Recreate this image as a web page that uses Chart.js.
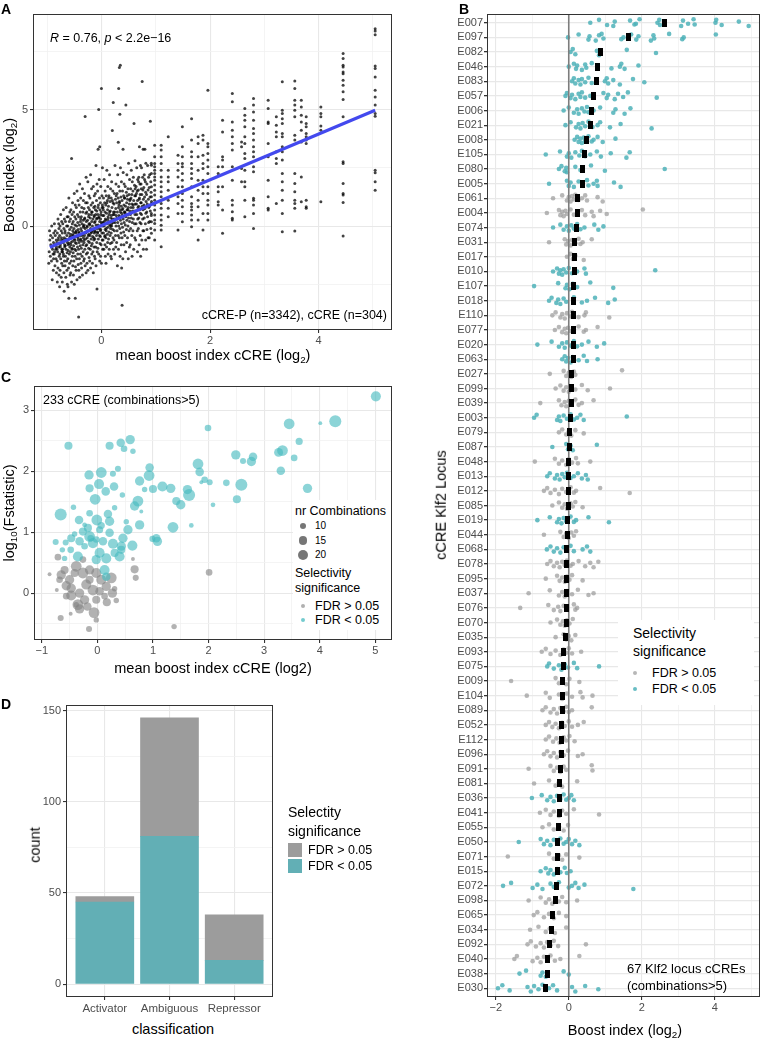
<!DOCTYPE html>
<html><head><meta charset="utf-8">
<script src="https://cdn.jsdelivr.net/npm/chart.js@4.4.1/dist/chart.umd.min.js"></script>
<style>
body{margin:0;background:#fff;}
#root{position:relative;width:765px;height:1042px;overflow:hidden;font-family:"Liberation Sans",Arial,sans-serif;background:#fff;}
canvas{position:absolute;}
.t{position:absolute;white-space:nowrap;color:#000;line-height:1;}
.t sub{font-size:0.68em;vertical-align:-0.3em;line-height:0;}
.dot{position:absolute;border-radius:50%;}
.box{position:absolute;}
</style></head>
<body><div id="root">
<canvas id="cA" width="400" height="345" style="left:0;top:0"></canvas>
<canvas id="cC" width="400" height="315" style="left:0;top:345px"></canvas>
<canvas id="cD" width="400" height="340" style="left:0;top:680px"></canvas>
<canvas id="cB" width="325" height="1042" style="left:440px;top:0"></canvas>
</div>
<script>
// ---------------- DATA ----------------
// Panel A: columns of points [mean boost index cCRE, [boost index values]]
const aCols = [
 [-0.95,[-0.6,-0.8,-1.1,-1.3,-1.6,-0.4,-0.2]],
 [-0.9,[-0.5,-0.7,-0.9,-1.2,-1.5,-1.9,-2.3,-0.3,0.0,-1.0,-1.4]],
 [-0.85,[-0.4,-0.6,-0.8,-1.0,-1.2,-1.4,-1.7,-2.0,0.1,-0.2,-0.9,-1.1]],
 [-0.8,[0.3,-0.1,-0.3,-0.5,-0.7,-0.9,-1.1,-1.3,-1.5,-1.8,-2.1,-2.4,-0.6,-1.0,0.1]],
 [-0.75,[0.5,0.2,0.0,-0.2,-0.4,-0.6,-0.8,-1.0,-1.2,-1.4,-1.6,-1.9,-2.2,-2.6,-0.5,-0.9,-1.1]],
 [-0.7,[0.7,0.3,0.1,-0.1,-0.3,-0.5,-0.7,-0.9,-1.1,-1.3,-1.5,-1.7,-2.0,-2.4,-2.8,-0.6,-0.8,-1.0,-1.2]],
 [-0.65,[0.8,0.4,0.2,0.0,-0.2,-0.4,-0.55,-0.7,-0.85,-1.0,-1.15,-1.3,-1.5,-1.7,-1.9,-2.2,-2.5,-0.3,-0.6]],
 [-0.6,[1.2,0.6,0.4,0.2,0.0,-0.15,-0.3,-0.45,-0.6,-0.75,-0.9,-1.05,-1.2,-1.4,-1.6,-1.8,-2.1,-2.6,-3.1,-0.5,-0.8]],
 [-0.55,[2.9,1.0,0.7,0.5,0.3,0.1,-0.05,-0.2,-0.35,-0.5,-0.65,-0.8,-0.95,-1.1,-1.3,-1.5,-1.7,-2.0,-2.4,-0.4,-0.7,-1.0]],
 [-0.5,[1.4,0.9,0.6,0.4,0.2,0.05,-0.1,-0.25,-0.4,-0.55,-0.7,-0.85,-1.0,-1.15,-1.3,-1.5,-1.75,-2.1,-2.5,-3.1,-0.3,-0.6]],
 [-0.45,[1.5,1.1,0.8,0.5,0.3,0.15,0.0,-0.15,-0.3,-0.45,-0.6,-0.75,-0.9,-1.05,-1.2,-1.4,-1.65,-1.9,-2.3,-0.5,-0.2]],
 [-0.42,[-3.9]],
 [-0.4,[1.8,1.2,0.9,0.6,0.4,0.2,0.05,-0.1,-0.25,-0.4,-0.55,-0.7,-0.85,-1.0,-1.2,-1.4,-1.6,-1.9,-2.2,0.3,-0.3,-0.6]],
 [-0.35,[1.6,1.1,0.8,0.6,0.4,0.25,0.1,-0.05,-0.2,-0.35,-0.5,-0.65,-0.8,-0.95,-1.1,-1.3,-1.5,-1.8,-2.1,0.0,-0.4]],
 [-0.3,[4.7,2.1,1.4,1.0,0.75,0.55,0.35,0.2,0.05,-0.1,-0.25,-0.4,-0.55,-0.7,-0.85,-1.0,-1.2,-1.4,-1.7,-2.0,0.3,-0.3,-0.6]],
 [-0.25,[1.9,1.3,1.0,0.8,0.6,0.4,0.25,0.1,-0.05,-0.2,-0.35,-0.5,-0.65,-0.8,-0.95,-1.15,-1.35,-1.6,-1.9,0.5,0.0,-0.4]],
 [-0.2,[2.2,1.6,1.2,0.9,0.7,0.5,0.35,0.2,0.05,-0.1,-0.25,-0.4,-0.55,-0.7,-0.85,-1.0,-1.2,-1.5,-1.8,0.6,0.1,-0.3]],
 [-0.15,[1.7,1.3,1.0,0.8,0.6,0.45,0.3,0.15,0.0,-0.15,-0.3,-0.45,-0.6,-0.75,-0.9,-1.1,-1.3,-1.6,-2.0,0.4,-0.2,-0.5]],
 [-0.1,[2.6,1.8,1.4,1.1,0.85,0.65,0.5,0.35,0.2,0.05,-0.1,-0.25,-0.4,-0.55,-0.7,-0.9,-1.1,-1.4,-1.7,-2.7,0.7,0.3,-0.2]],
 [-0.05,[5.0,3.4,3.3,2.0,1.5,1.2,0.9,0.7,0.5,0.35,0.2,0.05,-0.1,-0.25,-0.4,-0.55,-0.75,-0.95,-1.2,-1.5,0.8,0.4,-0.3]],
 [0.0,[5.9,2.5,1.7,1.3,1.0,0.8,0.6,0.45,0.3,0.15,0.0,-0.15,-0.3,-0.45,-0.6,-0.8,-1.0,-1.3,-1.6,0.9,0.5,0.1,-0.2]],
 [0.05,[2.0,1.5,1.2,1.0,0.8,0.6,0.45,0.3,0.15,0.0,-0.15,-0.3,-0.45,-0.6,-0.8,-1.0,-1.3,0.7,0.2,-0.4]],
 [0.1,[2.4,1.7,1.3,1.1,0.9,0.7,0.55,0.4,0.25,0.1,-0.05,-0.2,-0.35,-0.5,-0.7,-0.9,-1.2,-1.6,1.0,0.3,-0.1]],
 [0.15,[2.2,1.6,1.3,1.05,0.85,0.65,0.5,0.35,0.2,0.05,-0.1,-0.25,-0.4,-0.55,-0.75,-1.0,-1.3,1.2,0.6,0.0]],
 [0.2,[4.1,5.3,1.9,1.5,1.2,1.0,0.8,0.6,0.45,0.3,0.15,0.0,-0.15,-0.3,-0.5,-0.7,-1.0,-1.4,1.1,0.5,0.1]],
 [0.25,[2.6,1.8,1.4,1.15,0.95,0.75,0.6,0.45,0.3,0.15,0.0,-0.2,-0.4,-0.6,-0.9,-1.2,1.3,0.5]],
 [0.3,[2.2,1.7,1.4,1.2,1.0,0.8,0.6,0.45,0.3,0.15,0.0,-0.2,-0.4,-0.7,-1.0,-1.7,0.9,0.35]],
 [0.33,[6.8,6.9,5.9,4.8,3.6]],
 [0.35,[2.5,1.9,1.5,1.25,1.05,0.85,0.7,0.55,0.4,0.25,0.1,-0.1,-0.3,-0.5,-0.8,-1.3,-1.8,1.0,0.6]],
 [0.38,[-3.4,3.3]],
 [0.4,[2.3,1.8,1.5,1.3,1.1,0.9,0.75,0.6,0.45,0.3,0.15,-0.05,-0.25,-0.5,-0.8,-1.4,1.2,0.7]],
 [0.45,[5.2,2.2,1.7,1.45,1.2,1.0,0.85,0.7,0.55,0.4,0.25,0.05,-0.15,-0.4,-0.7,-1.1,1.3,0.6]],
 [0.5,[2.7,2.0,1.6,1.35,1.15,0.95,0.8,0.65,0.5,0.35,0.2,0.0,-0.2,-0.5,-0.9,-1.4,1.1,0.7]],
 [0.55,[2.4,1.9,1.6,1.35,1.15,0.95,0.8,0.65,0.5,0.35,0.15,-0.1,-0.4,-0.8,-1.3,1.2]],
 [0.6,[4.4,2.8,2.1,1.75,1.5,1.3,1.1,0.95,0.8,0.65,0.5,0.3,0.1,-0.2,-0.5,-1.0,1.6,0.9]],
 [0.65,[2.5,2.0,1.7,1.5,1.3,1.1,0.95,0.8,0.65,0.5,0.3,0.1,-0.2,-0.6,-1.1,1.4]],
 [0.7,[3.4,2.6,2.1,1.8,1.55,1.35,1.15,1.0,0.85,0.7,0.55,0.35,0.15,-0.1,-0.4,-0.8,-1.3,1.9,1.2]],
 [0.75,[6.2,3.3,2.5,2.1,1.8,1.55,1.35,1.15,1.0,0.85,0.7,0.5,0.3,0.1,-0.2,-0.6,-1.0,1.6]],
 [0.8,[3.3,2.7,2.2,1.9,1.65,1.45,1.25,1.05,0.9,0.75,0.55,0.35,0.1,-0.2,-0.6,2.0]],
 [0.85,[2.6,2.1,1.8,1.55,1.35,1.15,0.95,0.8,0.6,0.4,0.15,-0.15,-0.5,-1.0]],
 [0.9,[4.5,2.7,2.2,1.9,1.65,1.45,1.25,1.05,0.85,0.65,0.45,0.2,-0.1,-0.5]],
 [0.92,[2.61,2.26,1.69,1.26,0.97,0.54,0.19,-0.31]],
 [0.98,[3.47,2.97,2.69,2.54,2.4,2.26,2.11,1.97,1.76,1.54,1.33,1.11,0.9,0.69,0.47,0.26,0.11,-0.17,-0.6]],
 [1.1,[3.47,3.26,2.97,2.69,2.4,2.11,1.9,1.69,1.47,1.26,0.97,0.76,0.47,0.26,0.04,-0.17,-0.89]],
 [1.23,[3.83,2.4,2.11,1.9,1.54,1.11,0.76,0.4]],
 [1.41,[3.04,2.69,2.4,2.11,1.69,1.26,0.97,0.54,-0.17]],
 [1.49,[4.26,3.4,2.97,2.69,2.54,2.26,1.97,1.69,1.4,1.11,0.83,0.54,0.19]],
 [1.66,[4.61,3.69,3.19,2.97,2.69,2.47,2.26,2.04,1.69,1.26,0.97,0.83,0.69,0.47,0.26,-0.03]],
 [1.78,[3.83,3.54,2.97,2.4,1.97,1.54,1.11,0.83,0.26,-0.6]],
 [1.87,[3.9,3.69,3.04,2.69,2.47,1.97,1.69,1.4,0.54,-0.17]],
 [1.96,[5.83,3.54,3.4,3.11,2.83,2.54,2.26,1.69,1.4,1.11,0.9,0.54,0.26]],
 [2.15,[2.54,2.26,1.69,1.47,1.04,0.9]],
 [2.23,[4.54,4.04,2.97,2.83,2.54,1.69,0.69,-0.31]],
 [2.41,[5.69,5.33,4.47,4.11,3.83,3.54,3.26,2.54,1.97,1.11,0.9,0.61,0.33,0.26]],
 [2.58,[3.61,3.4,2.47,1.9]],
 [2.64,[5.04,4.76,4.54,4.26,3.83,3.54,3.11,2.9,2.4,1.9,1.69,1.11,0.4]],
 [2.8,[5.47,5.19,4.9,4.54,4.19,3.97,3.69,3.4,3.19,2.97,2.54,2.33,1.19,1.11,0.9,0.54,-0.1]],
 [3.07,[5.4,5.04,4.47,4.4,3.54,2.97,1.97,1.26,0.76,0.69]],
 [3.22,[4.69,4.33,4.04,3.83,3.19,2.9,2.69,0.97]],
 [3.33,[6.19,4.97,4.83,4.61,4.4,3.97,3.83,3.4,3.19,2.83,2.26,1.9,1.54,1.11,0.54,-0.24]],
 [3.56,[6.23,5.9,5.4,5.19,4.97,4.69,3.9,3.69,2.26,1.83,1.47,1.11,0.97,0.76,-0.21]],
 [3.68,[5.4,5.11,4.76,4.47,4.11,3.61,2.11,1.04]],
 [3.77,[4.69,4.4,4.26,3.97,3.83,3.69,3.54,1.11,0.83,0.76]],
 [4.04,[5.11,4.83,4.69,4.29,4.11,1.04]],
 [4.45,[7.4,7.19,6.9,6.83,6.61,6.54,6.26,6.04,5.76,5.43,4.69,2.76,2.69,1.83,1.4,1.33,1.01,-0.43]],
 [5.04,[8.47,8.37,8.21,6.87,6.76,6.4,5.83,5.54,5.19,4.83,4.71,2.4,2.29,1.9,1.54]]
];
const aLineX = [-0.95, 5.04];
const aLineY = [-0.91, 4.97];
const aXTicks = [-1,0,1,2,3,4,5], aXMajor = [0,2,4];
const aYTicks = [-2.5,0,2.5,5,7.5], aYMajor = [0,5];

// Panel B
const bLabels = ["E007","E097","E082","E046","E083","E057","E006","E021","E008","E105","E080","E005","E061","E004","E074","E031","E017","E010","E107","E018","E110","E077","E020","E063","E027","E099","E039","E003","E079","E087","E048","E013","E012","E085","E019","E044","E068","E078","E095","E037","E076","E070","E035","E093","E075","E009","E104","E089","E052","E112","E096","E091","E081","E036","E041","E055","E050","E071","E015","E072","E098","E065","E034","E092","E040","E038","E030"];
const bSig = [1,1,1,1,1,1,1,1,1,1,1,1,0,0,1,0,0,1,1,1,0,0,1,1,0,0,0,1,0,1,0,1,0,0,1,0,1,0,0,0,0,0,0,0,1,0,0,0,0,0,0,0,0,1,0,0,1,0,1,1,0,0,0,0,0,1,1];
const bMedian = [2.63,1.65,0.86,0.78,0.75,0.68,0.63,0.6,0.48,0.43,0.39,0.39,0.24,0.23,0.21,0.17,0.17,0.15,0.14,0.14,0.13,0.12,0.12,0.13,0.08,0.08,0.08,0.04,0.03,0.01,0,0,0,-0.02,-0.03,-0.03,-0.05,-0.05,-0.05,-0.05,-0.07,-0.07,-0.08,-0.14,-0.14,-0.17,-0.17,-0.17,-0.19,-0.2,-0.21,-0.23,-0.24,-0.25,-0.26,-0.29,-0.3,-0.32,-0.32,-0.33,-0.37,-0.44,-0.48,-0.54,-0.57,-0.58,-0.63];
const bPoints = [
 [0.59,0.83,1.05,1.26,1.22,1.68,1.84,1.94,1.8,2.43,2.48,2.5,2.61,3.08,3.13,3.27,3.42,3.45,4.02,4.04,4.19,4.66,4.93],
 [-0.02,0.27,0.54,0.57,0.74,0.83,0.95,0.9,1.44,1.5,1.71,1.85,1.91,2.25,2.32,2.34,2.75,3.11,3.15,4.03],
 [0.05,0.11,0.18,0.77,0.83,1.59,2.39],
 [0,0.14,0.2,0.23,0.36,0.45,0.48,0.63,1.17,1.4,1.44,1.53,1.91],
 [0.09,0.14,0.18,0.27,0.32,0.36,0.45,0.54,0.63,0.99,1.04,1.08,1.22,1.4,1.76,2.07],
 [-0.09,-0.05,0.05,0.09,0.18,0.27,0.32,0.36,0.45,0.59,0.95,1.04,1.08,1.26,1.35,1.49,1.62,2.41],
 [-0.14,0,0.14,0.23,0.27,0.36,0.43,0.5,0.54,0.68,0.86,1.22,1.28,1.53,1.69],
 [-0.09,0.05,0.2,0.27,0.32,0.38,0.45,0.54,0.65,0.79,0.86,1.13,1.42,2.27],
 [0.16,0.23,0.27,0.32,0.36,0.41,0.45,0.54,0.63,0.68,0.79,0.93,1.28],
 [-0.63,-0.24,-0.05,0,0.07,0.18,0.29,0.36,0.45,0.59,0.77,0.88,1.15,1.58,1.67],
 [-0.27,-0.2,-0.11,-0.07,-0.05,0.18,0.32,0.61,0.99,2.63],
 [-0.54,-0.05,0,0.05,0.14,0.27,0.38,0.5,0.54,0.68,0.77,0.79,1.24,1.42],
 [-0.43,-0.18,-0.05,0,0.05,0.09,0.14,0.18,0.27,0.36,0.45,0.5,0.79,0.93],
 [-0.6,-0.27,-0.23,-0.18,-0.14,-0.09,-0.05,0.05,0.14,0.23,0.36,0.45,0.63,0.68,0.86,1.04,2.03],
 [-0.43,-0.23,-0.14,-0.05,0,0.07,0.14,0.23,0.32,0.43,0.7,0.81,0.95],
 [-0.54,-0.11,-0.07,-0.02,0.05,0.09,0.18,0.27,0.32,0.38,0.63],
 [-0.05,0.05,0.11,0.18,0.41],
 [-0.43,-0.32,-0.27,-0.23,-0.18,-0.14,-0.07,0,0.09,0.23,0.43,0.47,2.37],
 [-0.95,-0.29,-0.09,-0.05,0.02,0.11,0.23,0.59,1.22],
 [-0.54,-0.47,-0.34,-0.29,-0.23,-0.14,-0.07,0.14,0.36,0.5,0.72,1.08,1.26],
 [-0.45,-0.36,-0.23,-0.18,-0.11,-0.05,0.05,0.09,0.27,0.43,0.47,1.11],
 [-0.38,-0.27,-0.18,-0.11,-0.07,-0.02,0.05,0.27,0.41,0.47,0.79],
 [-0.86,-0.47,-0.27,-0.18,-0.11,-0.05,0.05,0.14,0.23,0.36,0.54,0.77,0.97],
 [-0.18,-0.11,-0.07,-0.02,0.05,0.11,0.27,0.41,0.5,0.79],
 [-0.52,-0.14,-0.07,0,0.07,0.14,0.18,1.46],
 [-0.36,-0.23,-0.14,-0.07,0,0.07,0.18,0.36,0.52,1.13],
 [-0.78,-0.27,-0.2,-0.11,-0.07,0,0.07,0.18,0.27,0.36,0.68],
 [-0.95,-0.88,-0.32,-0.27,-0.23,-0.14,-0.05,0.05,0.14,0.23,0.32,0.41,1.59],
 [-0.27,-0.18,-0.07,0,0.07,0.18,0.41],
 [-0.45,-0.07,-0.02,0.05,0.11,0.77],
 [-0.93,-0.38,-0.27,-0.18,-0.07,0,0.09,0.2,0.25,0.59],
 [-0.59,-0.52,-0.38,-0.32,-0.25,-0.18,-0.11,-0.05,0.05,0.14,0.25,0.36,0.47,0.52],
 [-0.68,-0.59,-0.5,-0.38,-0.27,-0.18,-0.07,0.05,0.14,0.2,0.86,1.67],
 [-0.45,-0.27,-0.18,-0.11,-0.05,0.05,0.11,0.18,0.38],
 [-0.86,-0.52,-0.32,-0.27,-0.2,-0.14,-0.07,0.05,0.14,0.2,0.54,1.1],
 [-0.68,-0.23,-0.14,-0.07,0,0.07,0.14,0.2],
 [-0.6,-0.5,-0.41,-0.32,-0.23,-0.14,-0.07,0.05,0.14,0.38,0.5,0.59],
 [-0.59,-0.5,-0.41,-0.32,-0.25,-0.18,-0.11,-0.05,0.05,0.11,0.27,0.45,0.59,0.68,0.81],
 [-0.63,-0.32,-0.25,-0.18,-0.11,-0.05,0.02,0.09,0.38],
 [-1.1,-0.52,-0.27,-0.18,-0.11,-0.05,0.09,0.25,0.54,0.68],
 [-1.33,-0.56,-0.41,-0.29,-0.23,-0.14,-0.07,0.14,0.18,0.23],
 [-0.5,-0.32,-0.23,-0.16,-0.11,-0.05,0.02,0.11],
 [-0.36,-0.14,-0.07,0,0.07,0.18],
 [-0.74,-0.63,-0.5,-0.36,-0.23,-0.14,-0.07,0,0.09,0.34],
 [-0.59,-0.54,-0.41,-0.27,-0.2,-0.11,-0.02,0.14,0.23,0.83],
 [-1.58,-0.36,-0.27,-0.18,-0.07,0.02,0.29],
 [-1.15,-0.63,-0.52,-0.27,-0.18,-0.05,0.09,0.32,0.38,0.65],
 [-0.72,-0.63,-0.5,-0.41,-0.32,-0.23,-0.14,-0.07,0,0.09,0.63],
 [-0.63,-0.54,-0.45,-0.36,-0.27,-0.18,-0.11,0,0.09,0.25,0.41],
 [-0.63,-0.54,-0.43,-0.34,-0.25,-0.14,-0.07,0.02,0.16],
 [-0.68,-0.59,-0.5,-0.41,-0.32,-0.23,-0.14,-0.02,0.25,0.38],
 [-1.1,-0.5,-0.41,-0.32,-0.23,-0.14,-0.07,0.63,0.65],
 [-0.95,-0.54,-0.36,-0.27,-0.18,0.23],
 [-1.01,-0.74,-0.59,-0.5,-0.41,-0.32,-0.23,-0.14,-0.07,0,0.07,0.14],
 [-0.79,-0.63,-0.5,-0.41,-0.27,-0.18,-0.07,0.14,0.83],
 [-0.72,-0.54,-0.41,-0.27,-0.14,-0.02],
 [-1.37,-0.77,-0.68,-0.59,-0.5,-0.41,-0.32,-0.23,-0.14,-0.07,0,0.09,0.18,0.29],
 [-1.67,-0.54,-0.41,-0.27,-0.18,-0.07,0.29],
 [-0.77,-0.63,-0.56,-0.5,-0.41,-0.32,-0.23,-0.11,-0.05,0.05],
 [-1.8,-1.58,-0.99,-0.86,-0.72,-0.5,-0.41,-0.27,0,0.09,0.18,0.27,0.43,1.77],
 [-1.1,-0.77,-0.63,-0.54,-0.45,-0.36,-0.27,-0.18,-0.07,0.23],
 [-0.96,-0.86,-0.68,-0.54,-0.41,-0.27,-0.07],
 [-1.06,-0.83,-0.63,-0.52,-0.38,-0.07],
 [-1.13,-1.04,-0.9,-0.77,-0.68,-0.59,-0.5,-0.41,-0.29,0.47],
 [-1.49,-1.42,-0.99,-0.86,-0.77,-0.68,-0.59,-0.5,-0.38,-0.23,0.29],
 [-1.35,-1.17,-0.77,-0.72,-0.63,-0.14,0],
 [-1.94,-1.82,-1.62,-1.13,-1.04,-0.95,-0.83,-0.72,-0.63,-0.54,-0.43,-0.32,0.09,0.18,0.45,0.81]
];
const bXTicks = [-2,-1,0,1,2,3,4,5], bXMajor = [-2,0,2,4];

// Panel C: [mean boost index, log10(Fstatistic), nr combinations]
const cSig = [
 [5.01,3.23,18],[4.28,2.82,24],[4.01,2.79,6],[3.45,2.78,20],[3.63,2.49,11],[3.33,2.34,20],[3.26,2.31,15],[3.54,2.22,10],[3.30,2.01,14],[3.78,1.72,16],
 [2.80,2.24,14],[2.77,2.16,16],[2.62,2.17,9],[2.49,2.27,16],[2.59,1.78,24],[2.32,1.81,10],[2.51,1.54,13],[1.99,2.71,10],[2.02,1.82,9],[1.93,1.86,10],
 [1.87,1.82,6],[2.08,1.45,7],[1.81,2.12,20],[1.84,1.99,14],[1.65,1.61,24],[1.62,1.70,16],[1.50,1.45,16],[1.42,1.51,13],[1.32,1.72,16],[1.17,1.75,18],
 [1.00,1.71,13],[0.93,1.93,20],[0.94,2.06,14],[0.85,1.70,8],[0.76,1.84,16],[0.73,1.51,20],[0.67,1.43,16],[0.79,1.34,6],[0.59,2.52,16],[0.64,2.33,8],
 [0.48,2.37,10],[0.42,2.47,14],[0.22,2.42,13],[0.37,2.04,9],[0.28,1.96,9],[0.45,1.61,8],[0.07,1.98,20],[-0.15,1.94,16],[-0.14,1.72,13],[0.03,1.79,18],
 [0.15,1.67,14],[0.30,1.75,14],[-0.04,1.54,20],[-0.52,2.42,13],[-0.66,1.29,24],[-0.43,1.41,8],[-0.33,1.20,14],[-0.17,1.07,13],[-0.01,1.20,20],[0.19,1.30,14],
 [0.22,1.18,16],[0.04,1.04,11],[-0.14,0.93,20],[-0.26,1.01,13],[-0.32,0.85,14],[-0.47,0.90,13],[-0.57,0.83,9],[-0.75,0.84,9],[-0.63,0.71,8],[-0.48,0.71,10],
 [-0.35,0.60,18],[-0.59,0.57,8],[-0.08,0.82,18],[0.10,0.85,14],[0.28,0.81,18],[0.43,0.77,16],[0.63,0.78,18],[0.55,1.04,16],[0.52,1.17,8],[0.76,1.12,16],
 [0.43,0.71,13],[0.31,0.66,13],[0.04,0.66,18],[0.16,0.57,18],[0.40,0.60,18],[-0.02,0.55,16],[0.13,0.38,18],[1.06,0.90,14],[1.08,0.85,16],[0.99,0.89,9],
 [1.36,1.08,20],[1.69,1.11,7],[-0.12,0.90,10],[-0.23,0.77,10],[-0.14,1.31,10],[0.31,1.40,8],[0.46,0.90,16],[0.07,1.11,11],[-0.23,1.12,7],[-0.41,0.97,8],
 [0.22,0.99,14],[-0.02,0.88,10],[0.16,0.27,14]
];
const cNon = [
 [2.01,0.34,10],[0.67,0.39,13],[0.69,0.25,9],[1.38,-0.55,8],[0.64,0.56,6],[-0.86,0.31,6],[-0.71,0.59,10],[-0.73,0.05,6],[-0.66,-0.41,9],[-0.15,-0.59,9],
 [-0.48,-0.34,6],[0.34,-0.12,8],[0.31,0.07,8],[0.17,-0.15,13],[-0.06,-0.32,20],[-0.32,-0.26,16],[-0.35,-0.19,20],[-0.18,-0.22,14],[-0.47,-0.04,18],[-0.56,0.12,16],
 [-0.65,0.30,16],[-0.59,0.38,13],[-0.50,0.22,16],[-0.38,0.44,20],[-0.26,0.33,20],[-0.14,0.38,16],[-0.02,0.33,18],[0.07,0.22,18],[0.25,0.25,20],[-0.20,0.14,18],
 [-0.08,0.05,20],[-0.32,0.0,16],[0.04,0.03,14],[0.16,0.11,16],[-0.23,-0.11,16],[-0.47,0.08,16],[-0.02,-0.11,13],[0.27,0.0,16],[-0.14,0.22,13],[-0.41,0.33,13],
 [-0.68,0.22,10],[0.13,-0.05,10],[-0.56,-0.05,10],[-0.26,0.55,10],[-0.38,-0.19,8],[-0.02,-0.44,8]
];
const cXTicks = [-1,-0.5,0,0.5,1,1.5,2,2.5,3,3.5,4,4.5,5], cXMajor = [-1,0,1,2,3,4,5];
const cYTicks = [-0.5,0,0.5,1,1.5,2,2.5,3], cYMajor = [0,1,2,3];
const cLegendN = [10,15,20];

// Panel D
const dCats = ["Activator","Ambiguous","Repressor"];
const dSig = [45,81,13];      // FDR < 0.05
const dNon = [3,65,25];       // FDR > 0.05
const dYTicks = [0,25,50,75,100,125,150], dYMajor = [0,50,100,150];

// ---------------- STYLE / HELPERS ----------------
Chart.defaults.font.family = '"Liberation Sans", Arial, sans-serif';
Chart.defaults.color = '#4d4d4d';
const MAJ = '#e8e8e8', MIN = '#f1f1f1';
const TEAL_B = 'rgba(78,178,184,0.85)', GREY_B = 'rgba(155,155,155,0.72)';
const TEAL_C = 'rgba(70,185,190,0.62)', GREY_C = 'rgba(130,130,130,0.62)';
const TEAL_D = '#62AFB5', GREY_D = '#9C9C9C';
// display-only horizontal dodge for the overplotted cloud in panel A
const aDodge = [0, 0.018, -0.012, 0.009, -0.02, 0.014, -0.006, 0.022, -0.016];
const fmt = v => v < 0 ? '\u2212' + Math.abs(v) : String(v);
const root = document.getElementById('root');

function T(html, x, y, o = {}) {
  const d = document.createElement('div');
  d.className = 't'; d.innerHTML = html;
  d.style.left = x + 'px'; d.style.top = y + 'px';
  d.style.fontSize = (o.s || 12) + 'px';
  if (o.b) d.style.fontWeight = 'bold';
  if (o.c) d.style.color = o.c;
  const ax = o.a === 'c' ? '-50%' : o.a === 'r' ? '-100%' : '0';
  d.style.transform = o.rot ? 'translate(-50%,-50%) rotate(-90deg)' : `translate(${ax},-50%)`;
  root.appendChild(d);
}
function dot(x, y, r, col) {
  const d = document.createElement('div'); d.className = 'dot';
  d.style.left = (x - r) + 'px'; d.style.top = (y - r) + 'px';
  d.style.width = d.style.height = (2 * r) + 'px'; d.style.background = col;
  root.appendChild(d);
}
function box(x, y, w, h, col) {
  const d = document.createElement('div'); d.className = 'box';
  d.style.left = x + 'px'; d.style.top = y + 'px'; d.style.width = w + 'px'; d.style.height = h + 'px';
  d.style.background = col; root.appendChild(d);
}
const frame = { id: 'frame', afterDatasetsDraw(c) {
  const a = c.chartArea, g = c.ctx; g.save(); g.strokeStyle = '#333'; g.lineWidth = 1;
  g.strokeRect(Math.round(a.left) + 0.5, Math.round(a.top) + 0.5, Math.round(a.right - a.left) - 1, Math.round(a.bottom - a.top) - 1); g.restore(); } };

function linAxis(ticks, major, min, max, fit, isX, extra = {}) {
  return Object.assign({
    type: 'linear', min, max, offset: false,
    afterBuildTicks: s => { s.ticks = ticks.map(v => ({ value: v })); },
    afterFit: s => { if (isX) s.height = fit; else s.width = fit; },
    ticks: { autoSkip: false, maxRotation: 0, font: { size: 11 }, color: '#4d4d4d', padding: isX ? 1 : 2,
      callback: v => major.includes(v) ? fmt(v) : '' },
    grid: { offset: false, color: c => (c.tick && major.includes(c.tick.value)) ? MAJ : MIN,
      lineWidth: c => (c.tick && major.includes(c.tick.value)) ? 1.1 : 0.8,
      tickColor: c => (c.tick && major.includes(c.tick.value)) ? '#333' : 'rgba(0,0,0,0)',
      tickLength: 3, drawTicks: true },
    border: { display: false }
  }, extra);
}
const base = { responsive: false, animation: false, devicePixelRatio: 1,
  plugins: { legend: { display: false }, tooltip: { enabled: false } } };

// ---------------- PANEL A ----------------
const aPts = [];
aCols.forEach(([x, ys]) => ys.forEach((y, k) => aPts.push({ x: x < 0.91 ? x + aDodge[k % aDodge.length] : x, y })));
new Chart(document.getElementById('cA'), {
  type: 'scatter',
  data: { datasets: [
    { type: 'line', data: aLineX.map((x, i) => ({ x, y: aLineY[i] })), borderColor: '#4349ee', borderWidth: 3.2, pointRadius: 0, order: 0 },
    { data: aPts, pointRadius: 1.5, borderWidth: 0, backgroundColor: 'rgba(0,0,0,0.74)', order: 1 }
  ] },
  options: Object.assign({}, base, {
    layout: { padding: { top: 14, right: 8, left: 0, bottom: 0 } },
    scales: { x: linAxis(aXTicks, aXMajor, -1.26, 5.35, 15, true), y: linAxis(aYTicks, aYMajor, -4.46, 9.1, 33, false) }
  }),
  plugins: [frame]
});

// ---------------- PANEL C ----------------
const rC = n => Math.sqrt(Math.max(2, 1.8 * n - 7));
new Chart(document.getElementById('cC'), {
  type: 'bubble',
  data: { datasets: [
    { data: cSig.map(p => ({ x: p[0], y: p[1], r: rC(p[2]) })), backgroundColor: TEAL_C, borderWidth: 0, order: 0 },
    { data: cNon.map(p => ({ x: p[0], y: p[1], r: rC(p[2]) })), backgroundColor: GREY_C, borderWidth: 0, order: 1 }
  ] },
  options: Object.assign({}, base, {
    layout: { padding: { top: 41, right: 8, left: 0, bottom: 0 } },
    scales: { x: linAxis(cXTicks, cXMajor, -1.14, 5.30, 20, true), y: linAxis(cYTicks, cYMajor, -0.77, 3.40, 34, false) }
  }),
  plugins: [frame]
});

// ---------------- PANEL D ----------------
new Chart(document.getElementById('cD'), {
  type: 'bar',
  data: { datasets: [
    { data: dCats.map((c, i) => ({ x: i + 1, y: dSig[i] })), backgroundColor: TEAL_D, barThickness: 58, stack: 's', borderWidth: 0 },
    { data: dCats.map((c, i) => ({ x: i + 1, y: dNon[i] })), backgroundColor: GREY_D, barThickness: 58, stack: 's', borderWidth: 0 }
  ] },
  options: Object.assign({}, base, {
    layout: { padding: { top: 25, right: 127, left: 0, bottom: 0 } },
    scales: {
      x: linAxis([1, 2, 3], [1, 2, 3], 0.4, 3.6, 23, true, { stacked: true,
        ticks: { autoSkip: false, maxRotation: 0, font: { size: 11.5 }, color: '#4d4d4d', padding: 2, callback: v => dCats[v - 1] || '' } }),
      y: linAxis(dYTicks, dYMajor, -7.1, 153.1, 66, false, { stacked: true })
    }
  }),
  plugins: [frame]
});

// ---------------- PANEL B ----------------
const jit = [0, -0.2, 0.15, -0.08, 0.22, -0.15, 0.07, -0.24, 0.12];
const bTeal = [], bGrey = [];
bPoints.forEach((vals, r) => vals.forEach((v, k) => {
  (bSig[r] ? bTeal : bGrey).push({ x: v, y: r + jit[k % jit.length] });
}));
const medImg = document.createElement('canvas'); medImg.width = 5; medImg.height = 8;
{ const g = medImg.getContext('2d'); g.fillStyle = '#000'; g.fillRect(0, 0, 5, 8); }
const bRows = bLabels.map((_, i) => i);
new Chart(document.getElementById('cB'), {
  type: 'scatter',
  data: { datasets: [
    { data: bMedian.map((m, i) => ({ x: m, y: i })), pointStyle: medImg, pointRadius: 4, order: 0 },
    { type: 'line', data: [{ x: 0, y: -0.6 }, { x: 0, y: 66.6 }], borderColor: '#7d7d7d', borderWidth: 1.6, pointRadius: 0, order: 1 },
    { data: bTeal, pointRadius: 2.3, borderWidth: 0, backgroundColor: TEAL_B, order: 2 },
    { data: bGrey, pointRadius: 2.3, borderWidth: 0, backgroundColor: GREY_B, order: 3 }
  ] },
  options: Object.assign({}, base, {
    layout: { padding: { top: 14, right: 1, left: 0, bottom: 0 } },
    scales: {
      x: linAxis(bXTicks, bXMajor, -2.24, 5.24, 45, true),
      y: { type: 'linear', reverse: true, min: -0.6, max: 66.6,
        afterBuildTicks: s => { s.ticks = bRows.map(v => ({ value: v })); },
        afterFit: s => { s.width = 47; },
        ticks: { autoSkip: false, font: { size: 11 }, color: '#4d4d4d', padding: 1, callback: v => bLabels[v] },
        grid: { color: MAJ, lineWidth: 1.3, tickColor: '#333', tickLength: 3 },
        border: { display: false } }
    }
  }),
  plugins: [frame]
});

// ---------------- TEXT & LEGENDS ----------------
T('A', 1, 9, { s: 14, b: true });
T('B', 459, 9, { s: 14, b: true });
T('C', 1, 377, { s: 14, b: true });
T('D', 1, 704, { s: 14, b: true });

T('<i>R</i> = 0.76, <i>p</i> &lt; 2.2e\u221216', 50, 38, { s: 12.5 });
T('cCRE-P (n=3342), cCRE (n=304)', 387, 315, { s: 12.5, a: 'r' });
T('mean boost index cCRE (log<sub>2</sub>)', 213, 355, { s: 14.5, a: 'c' });
T('Boost index (log<sub>2</sub>)', 9, 175, { s: 14.5, rot: true });

T('233 cCRE (combinations&gt;5)', 43, 400, { s: 12.5 });
T('mean boost index cCRE (log2)', 213, 668, { s: 14.5, a: 'c' });
T('log<sub>10</sub>(Fstatistic)', 9, 513, { s: 14.5, rot: true });
box(293, 500, 98, 130, '#fff');
T('nr Combinations', 295, 511, { s: 12.5 });
cLegendN.forEach((n, i) => { dot(303, 526 + i * 14.5, rC(n), 'rgba(60,60,60,0.7)'); T(String(n), 315, 526 + i * 14.5, { s: 10 }); });
T('Selectivity', 295, 573, { s: 12.5 });
T('significance', 295, 588, { s: 12.5 });
dot(303, 606, 2, 'rgba(150,150,150,0.75)'); T('FDR &gt; 0.05', 315, 606, { s: 12.5 });
dot(303, 620, 2, 'rgba(70,185,190,0.75)'); T('FDR &lt; 0.05', 315, 620, { s: 12.5 });

T('count', 35, 845, { s: 14.5, rot: true });
T('classification', 173, 1029, { s: 14.5, a: 'c' });
T('Selectity', 288, 812, { s: 14 });
T('significance', 288, 831, { s: 14 });
box(288, 843, 14, 14, GREY_D); T('FDR &gt; 0.05', 308, 850, { s: 12.5 });
box(288, 859, 14, 14, TEAL_D); T('FDR &lt; 0.05', 308, 866, { s: 12.5 });

T('cCRE Klf2 Locus', 441, 505, { s: 14.5, rot: true });
T('Boost index (log<sub>2</sub>)', 625, 1030, { s: 14.5, a: 'c' });
box(618, 620, 136, 85, '#fff');
T('Selectivity', 633, 633, { s: 14 });
T('significance', 633, 651, { s: 14 });
dot(635, 673, 2.3, GREY_B); T('FDR &gt; 0.05', 652, 673, { s: 12.5 });
dot(635, 689, 2.3, TEAL_B); T('FDR &lt; 0.05', 652, 689, { s: 12.5 });
T('67 Klf2 locus cCREs', 627, 968, { s: 13 });
T('(combinations&gt;5)', 627, 985, { s: 13 });
</script>
</body></html>
